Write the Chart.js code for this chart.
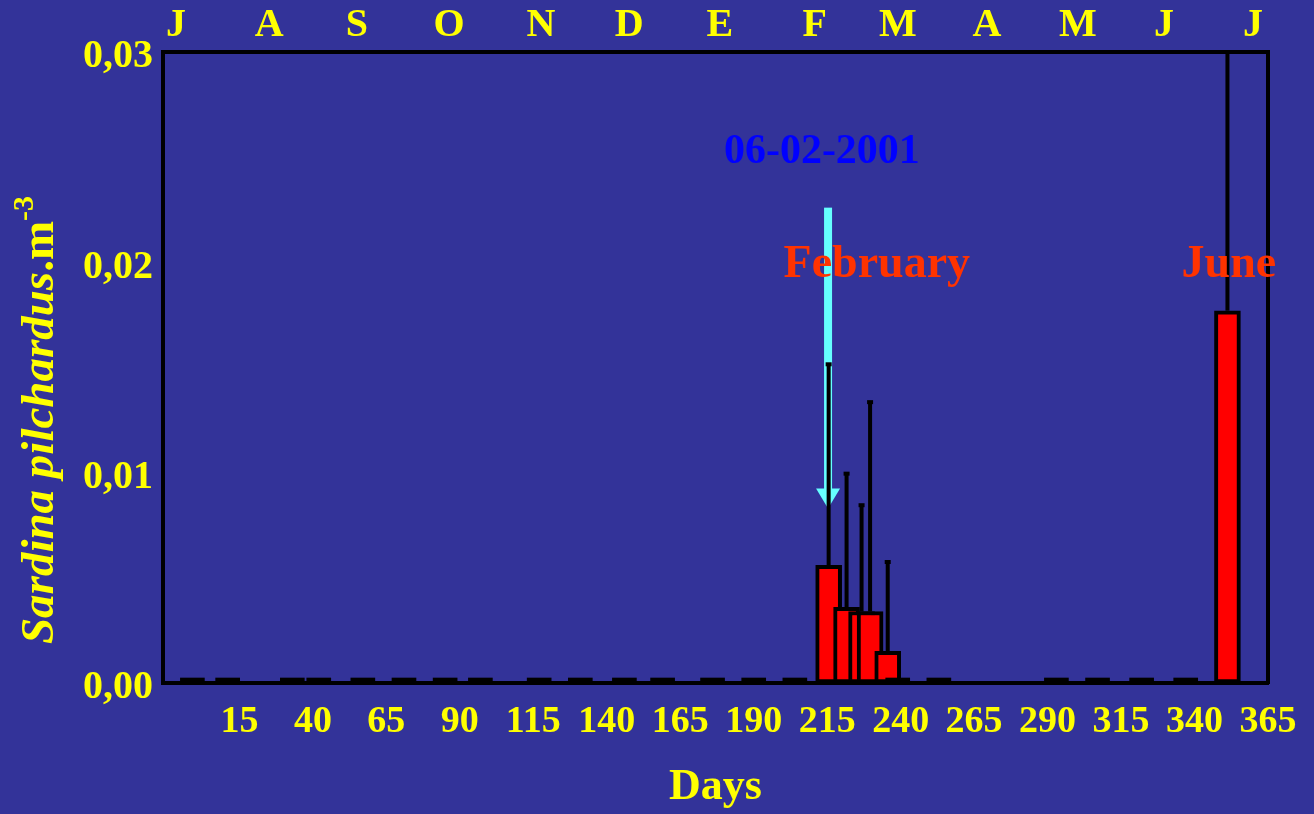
<!DOCTYPE html>
<html>
<head>
<meta charset="utf-8">
<script src="https://cdn.jsdelivr.net/npm/chart.js@4/dist/chart.umd.min.js"></script>
<style>
    html, body { margin: 0; padding: 0; background: #333399; }
    #wrap { width: 1314px; height: 814px; }
</style>
</head>
<body>
<div id="wrap"><canvas id="sardineChart"></canvas></div>
<script>
var dayTicks = [15, 40, 65, 90, 115, 140, 165, 190, 215, 240, 265, 290, 315, 340, 365];
var monthDays = [-6.6, 25.1, 55, 86.3, 117.6, 147.6, 178.5, 210.8, 239.1, 269.4, 300.3, 329.6, 359.9];
var monthLetters = ['J', 'A', 'S', 'O', 'N', 'D', 'E', 'F', 'M', 'A', 'M', 'J', 'J'];
var yTicks = [0, 0.01, 0.02, 0.03];

// samples with no larvae
var zeroDays = [-1, 11, 33, 42, 57, 71, 85, 97, 117, 131, 146, 159, 176, 190, 204, 239, 253, 293, 307, 322, 337];
var zeroValues = [0, 0, 0, 0, 0, 0, 0, 0, 0, 0, 0, 0, 0, 0, 0, 0, 0, 0, 0, 0, 0];

// samples with larvae, mean and top of error bar
var barDays = [215.5, 221.6, 226.7, 229.6, 235.6, 351.2];
var barValues = [0.0056, 0.0036, 0.0034, 0.0034, 0.0015, 0.0177];
var barUpper = [0.0152, 0.0100, 0.0085, 0.0134, 0.0058, 0.0350];

var arrowDay = 215.3;
var arrowFrom = 0.0226;
var arrowTo = 0.0083;

var notes = [
    { text: '06-02-2001', day: 213.2, value: 0.0247, color: '#0000ff', size: 42 },
    { text: 'February', day: 231.9, value: 0.0193, color: '#ff3300', size: 46 },
    { text: 'June', day: 351.7, value: 0.0193, color: '#ff3300', size: 46 }
];

var serif = "'Liberation Serif', 'Times New Roman', serif";
var yellow = '#ffff00';

var extrasPlugin = {
    id: 'extras',
    afterDatasetsDraw: function(chart) {
        var ctx = chart.ctx;
        var xs = chart.scales.x;
        var ys = chart.scales.y;
        var area = chart.chartArea;

        ctx.save();
        ctx.beginPath();
        ctx.rect(area.left, area.top, area.right - area.left, area.bottom - area.top);
        ctx.clip();

        // cyan arrow
        var ax = xs.getPixelForValue(arrowDay);
        var aTop = ys.getPixelForValue(arrowFrom);
        var aTip = ys.getPixelForValue(arrowTo);
        ctx.fillStyle = '#66ffff';
        ctx.fillRect(ax - 4, aTop, 8, aTip - aTop - 18);
        ctx.beginPath();
        ctx.moveTo(ax - 12, aTip - 20);
        ctx.lineTo(ax + 12, aTip - 20);
        ctx.lineTo(ax, aTip);
        ctx.closePath();
        ctx.fill();

        // error bars
        ctx.fillStyle = '#000000';
        barDays.forEach(function(d, i) {
            var px = xs.getPixelForValue(d);
            var y0 = ys.getPixelForValue(barValues[i]);
            var y1 = ys.getPixelForValue(barUpper[i]);
            ctx.fillRect(px - 2, y1, 4, y0 - y1);
            ctx.fillRect(px - 3, y1 - 1, 6, 4);
        });
        ctx.restore();

        // labels
        ctx.save();
        ctx.textAlign = 'center';
        ctx.textBaseline = 'alphabetic';
        notes.forEach(function(n) {
            ctx.font = 'bold ' + n.size + 'px ' + serif;
            ctx.fillStyle = n.color;
            ctx.fillText(n.text, xs.getPixelForValue(n.day), ys.getPixelForValue(n.value));
        });
        ctx.restore();

        // y axis title with italic species name and superscript
        var parts = [
            { t: 'Sardina pilchardus', f: 'italic bold 47px ' + serif, rise: 0 },
            { t: '.m', f: 'bold 47px ' + serif, rise: 0 },
            { t: '-3', f: 'bold 30px ' + serif, rise: 20 }
        ];
        ctx.save();
        var total = 0;
        parts.forEach(function(p) {
            ctx.font = p.f;
            p.w = ctx.measureText(p.t).width;
            total += p.w;
        });
        ctx.translate(53, 420);
        ctx.rotate(-Math.PI / 2);
        ctx.fillStyle = yellow;
        ctx.textAlign = 'left';
        ctx.textBaseline = 'alphabetic';
        var pos = -total / 2;
        parts.forEach(function(p) {
            ctx.font = p.f;
            ctx.fillText(p.t, pos, -p.rise);
            pos += p.w;
        });
        ctx.restore();
    }
};

var border = { display: true, color: '#000000', width: 4 };
var noGrid = { display: false, drawTicks: false };

new Chart(document.getElementById('sardineChart'), {
    type: 'bar',
    data: {
        datasets: [{
            data: zeroDays.map(function(d, i) { return { x: d, y: zeroValues[i] }; }),
            backgroundColor: '#000000',
            borderColor: '#000000',
            borderWidth: 0,
            minBarLength: 5,
            barThickness: 24,
            grouped: false
        }, {
            data: barDays.map(function(d, i) { return { x: d, y: barValues[i] }; }),
            backgroundColor: '#ff0000',
            borderColor: '#000000',
            borderWidth: 4,
            borderSkipped: false,
            barThickness: 26,
            grouped: false
        }]
    },
    options: {
        responsive: true,
        maintainAspectRatio: false,
        animation: false,
        layout: { padding: 0 },
        plugins: {
            legend: { display: false },
            tooltip: { enabled: false }
        },
        scales: {
            x: {
                type: 'linear',
                position: 'bottom',
                min: -11,
                max: 365,
                offset: false,
                grid: noGrid,
                border: border,
                afterBuildTicks: function(s) { s.ticks = dayTicks.map(function(v) { return { value: v }; }); },
                afterFit: function(s) { s.height = 131; },
                ticks: {
                    autoSkip: false,
                    maxRotation: 0,
                    padding: 16,
                    color: yellow,
                    font: { family: serif, size: 38, weight: 'bold' },
                    callback: function(v) { return String(v); }
                },
                title: {
                    display: true,
                    text: 'Days',
                    color: yellow,
                    padding: 0,
                    font: { family: serif, size: 44, weight: 'bold' }
                }
            },
            xTop: {
                type: 'linear',
                position: 'top',
                min: -11,
                max: 365,
                offset: false,
                grid: noGrid,
                border: border,
                afterBuildTicks: function(s) { s.ticks = monthDays.map(function(v) { return { value: v }; }); },
                afterFit: function(s) { s.height = 52; },
                ticks: {
                    autoSkip: false,
                    maxRotation: 0,
                    padding: 2,
                    color: yellow,
                    font: { family: serif, size: 40, weight: 'bold' },
                    callback: function(v, i) { return monthLetters[i]; }
                }
            },
            y: {
                type: 'linear',
                position: 'left',
                min: 0,
                max: 0.03,
                grid: noGrid,
                border: border,
                afterBuildTicks: function(s) { s.ticks = yTicks.map(function(v) { return { value: v }; }); },
                afterFit: function(s) { s.width = 163; },
                ticks: {
                    padding: 10,
                    labelOffset: 5,
                    color: yellow,
                    font: { family: serif, size: 40, weight: 'bold' },
                    callback: function(v) { return v.toFixed(2).replace('.', ','); }
                }
            },
            y2: {
                type: 'linear',
                position: 'right',
                min: 0,
                max: 0.03,
                grid: noGrid,
                border: border,
                ticks: { display: false },
                afterFit: function(s) { s.width = 46; }
            }
        }
    },
    plugins: [extrasPlugin]
});
</script>
</body>
</html>
